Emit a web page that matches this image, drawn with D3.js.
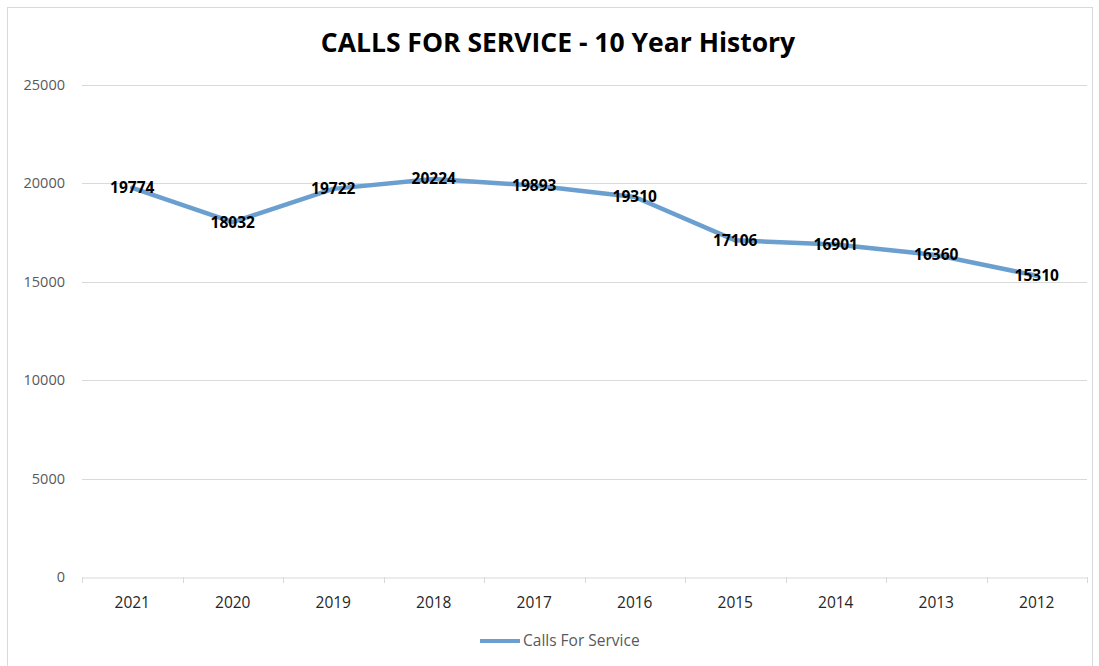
<!DOCTYPE html>
<html><head><meta charset="utf-8">
<script src="https://cdn.jsdelivr.net/npm/d3@7"></script>
<style>body{margin:0;background:#fff;}svg{display:block;font-family:"Open Sans","Liberation Sans",sans-serif;}</style>
</head><body>
<svg id="c" width="1099" height="666"></svg>
<script>
const years = ["2021","2020","2019","2018","2017","2016","2015","2014","2013","2012"];
const calls = [19774,18032,19722,20224,19893,19310,17106,16901,16360,15310];
const yTicks = [0,5000,10000,15000,20000,25000];
const title = "CALLS FOR SERVICE - 10 Year History";
const seriesName = "Calls For Service";

(function(){
const svg = d3.select("#c");
const pL = 82, pR = 1087, pT = 85, pB = 577;
svg.append("rect").attr("x",7.5).attr("y",7.5).attr("width",1085).attr("height",680).attr("fill","#fff").attr("stroke","#d9d9d9");

const x = d3.scaleBand().domain(years).range([pL,pR]);
const y = d3.scaleLinear().domain([0,25000]).range([pB,pT]);

svg.append("text").attr("x",558).attr("y",52).attr("text-anchor","middle")
  .attr("font-size",26.5).attr("font-weight","bold").attr("fill","#000").text(title);

svg.append("g").selectAll("line").data(yTicks.slice(1)).join("line")
  .attr("x1",pL).attr("x2",pR).attr("y1",d=>Math.round(y(d))+0.5).attr("y2",d=>Math.round(y(d))+0.5)
  .attr("stroke","#d9d9d9").attr("stroke-width",1);

svg.append("g").selectAll("text").data(yTicks).join("text")
  .attr("x",65).attr("y",d=>y(d)).attr("dy","0.35em").attr("text-anchor","end")
  .attr("font-size",14.5).attr("fill","#595959").text(d=>d);

const xa = svg.append("g").attr("transform",`translate(0,${Math.round(pB)+0.5})`)
  .call(d3.axisBottom(x).tickSize(0).tickPadding(0).tickFormat(""));
xa.select(".domain").attr("stroke","#d9d9d9");
svg.append("g").selectAll("line").data(years.concat(["end"])).join("line")
  .attr("x1",(d,i)=>Math.round(pL + i*x.step())+0.5).attr("x2",(d,i)=>Math.round(pL + i*x.step())+0.5)
  .attr("y1",pB).attr("y2",pB+6).attr("stroke","#d9d9d9");
svg.append("g").selectAll("text").data(years).join("text")
  .attr("x",d=>x(d)+x.bandwidth()/2).attr("y",608).attr("text-anchor","middle")
  .attr("font-size",15.5).attr("fill","#262626").text(d=>d);

const line = d3.line().x((d,i)=>x(years[i])+x.bandwidth()/2).y(d=>y(d));
svg.append("path").datum(calls).attr("d",line).attr("fill","none")
  .attr("stroke","#6b9fcf").attr("stroke-width",4.5).attr("stroke-linejoin","round").attr("stroke-linecap","round");

svg.append("g").selectAll("text").data(calls).join("text")
  .attr("x",(d,i)=>x(years[i])+x.bandwidth()/2).attr("y",d=>y(d)).attr("dy","0.35em")
  .attr("text-anchor","middle").attr("font-size",15.5).attr("font-weight","bold").attr("fill","#000").text(d=>d);

svg.append("line").attr("x1",480).attr("x2",520).attr("y1",641).attr("y2",641).attr("stroke","#6b9fcf").attr("stroke-width",4);
svg.append("text").attr("x",523).attr("y",641).attr("dy","0.35em").attr("font-size",15.5).attr("fill","#595959").text(seriesName);
})();
</script>
</body></html>
